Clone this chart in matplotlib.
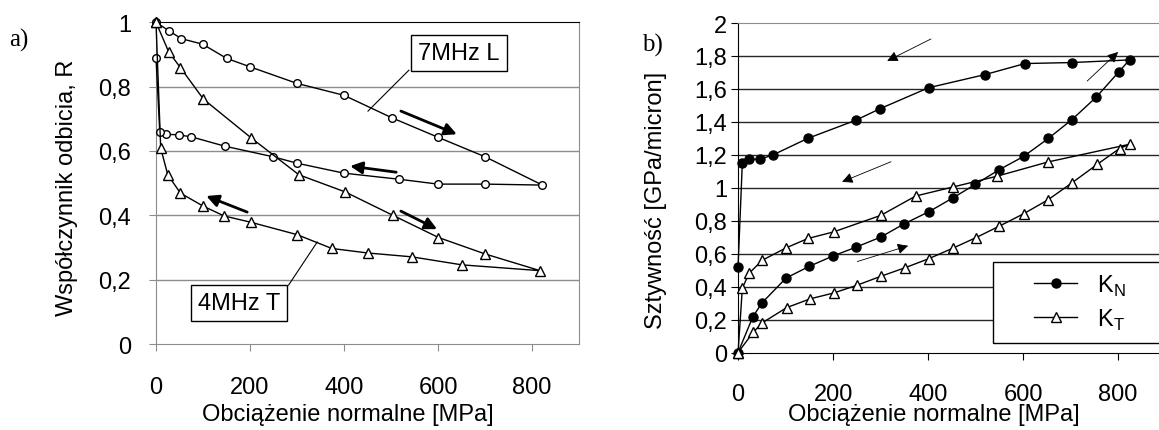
import matplotlib
matplotlib.use("Agg")
import matplotlib.pyplot as plt
from matplotlib.patches import Rectangle
from matplotlib.ticker import FixedLocator

plt.rcParams["font.family"] = ["Liberation Sans", "DejaVu Sans"]
plt.rcParams["font.size"] = 17

# --- panel a): reflection coefficient R ---
l7_x = [0, 28, 54, 99, 150, 201, 300, 400, 502, 601, 700, 822,
        700, 600, 518, 400, 300, 249, 146, 75, 48, 22, 8, 0]
l7_y = [1.0, 0.973, 0.949, 0.932, 0.888, 0.861, 0.81, 0.773, 0.703, 0.642, 0.582, 0.494,
        0.497, 0.497, 0.512, 0.531, 0.562, 0.582, 0.615, 0.644, 0.650, 0.652, 0.66, 0.89]
t4_x = [0, 27, 52, 101, 203, 304, 402, 504, 601, 700, 817,
        651, 544, 450, 374, 300, 203, 145, 101, 52, 25, 10, 0]
t4_y = [1.0, 0.908, 0.859, 0.761, 0.64, 0.526, 0.473, 0.40, 0.331, 0.28, 0.228,
        0.246, 0.271, 0.283, 0.297, 0.34, 0.378, 0.398, 0.428, 0.469, 0.526, 0.609, 1.0]

# --- panel b): stiffness ---
kn_x = [0, 31, 50, 101, 150, 199, 248, 300, 349, 402, 452, 499, 550, 601, 653, 703, 754, 802, 824,
        703, 604, 520, 401, 299, 248, 147, 74, 46, 22, 9, 0]
kn_y = [0.0, 0.216, 0.30, 0.452, 0.523, 0.585, 0.639, 0.70, 0.78, 0.855, 0.938, 1.02, 1.11, 1.19,
        1.299, 1.414, 1.55, 1.705, 1.776,
        1.76, 1.754, 1.687, 1.607, 1.48, 1.41, 1.30, 1.20, 1.173, 1.173, 1.151, 0.52]
kt_x = [0, 32, 51, 102, 152, 201, 250, 301, 352, 402, 452, 500, 550, 601, 652, 703, 756, 803, 824,
        653, 545, 453, 374, 301, 201, 147, 101, 51, 23, 9, 0]
kt_y = [0.0, 0.123, 0.18, 0.272, 0.326, 0.361, 0.408, 0.463, 0.515, 0.57, 0.633, 0.696, 0.767,
        0.842, 0.926, 1.03, 1.142, 1.238, 1.264,
        1.157, 1.07, 1.005, 0.95, 0.833, 0.732, 0.692, 0.635, 0.56, 0.48, 0.39, 0.0]

x_ticks = [0, 200, 400, 600, 800]
a_yticks = [0, 0.2, 0.4, 0.6, 0.8, 1.0]
a_ylabels = ["0", "0,2", "0,4", "0,6", "0,8", "1"]
b_yticks = [0, 0.2, 0.4, 0.6, 0.8, 1.0, 1.2, 1.4, 1.6, 1.8, 2.0]
b_ylabels = ["0", "0,2", "0,4", "0,6", "0,8", "1", "1,2", "1,4", "1,6", "1,8", "2"]

fig = plt.figure(figsize=(11.59, 4.31), dpi=100)
ax1 = fig.add_axes([0.1346, 0.1995, 0.365, 0.7465])
ax2 = fig.add_axes([0.6368, 0.1798, 0.3689, 0.7645])

# ---------- a) ----------
ax1.plot(l7_x, l7_y, color="black", lw=1.0, marker="o", ms=5.5, mfc="white", mec="black", mew=1.0,
         zorder=3, clip_on=False)
ax1.plot(t4_x, t4_y, color="black", lw=1.0, marker="^", ms=6.5, mfc="white", mec="black", mew=1.0,
         zorder=3, clip_on=False)
ax1.set_xlim(0, 900)
ax1.set_ylim(0, 1)
ax1.xaxis.set_major_locator(FixedLocator(x_ticks))
ax1.set_yticks(a_yticks)
ax1.set_yticklabels(a_ylabels)
for y in a_yticks[1:-1]:
    ax1.axhline(y, color="#8c8c8c", lw=1.0, zorder=1)
for s in ["left", "bottom", "right"]:
    ax1.spines[s].set_color("#8c8c8c")
ax1.spines["top"].set_color("black")
ax1.tick_params(axis="x", direction="out", length=5, pad=18, color="#8c8c8c")
ax1.tick_params(axis="y", direction="out", length=5, pad=13, color="#8c8c8c")
ax1.set_xlabel("Obciążenie normalne [MPa]")
ax1.xaxis.set_label_coords(0.454, -0.183)
ax1.set_ylabel("Współczynnik odbicia, R")
ax1.yaxis.set_label_coords(-0.184, 0.49)

box = dict(boxstyle="square,pad=0.3", fc="white", ec="black", lw=1.0)
ax1.text(645, 0.904, "7MHz L", ha="center", va="center", bbox=box, zorder=5)
ax1.text(177, 0.127, "4MHz T", ha="center", va="center", bbox=box, zorder=5)
ax1.plot([538, 451], [0.851, 0.724], color="black", lw=0.8, zorder=4)
ax1.plot([282, 343], [0.183, 0.317], color="black", lw=0.8, zorder=4)

bold = dict(arrowstyle="-|>", lw=2.0, color="black", mutation_scale=18, shrinkA=0, shrinkB=0)
for (tx, ty), (hx, hy) in [((521, 0.724), (640, 0.652)), ((511, 0.534), (413, 0.553)),
                           ((521, 0.413), (598, 0.357)), ((194, 0.41), (107, 0.46))]:
    ax1.annotate("", xy=(hx, hy), xytext=(tx, ty), arrowprops=bold, zorder=4)

# ---------- b) ----------
ax2.plot(kn_x, kn_y, color="black", lw=1.0, marker="o", ms=6.5, mfc="black", mec="black",
         label="K$_\\mathregular{N}$", zorder=3, clip_on=False)
ax2.plot(kt_x, kt_y, color="black", lw=1.0, marker="^", ms=6.5, mfc="white", mec="black", mew=1.0,
         label="K$_\\mathregular{T}$", zorder=3, clip_on=False)
ax2.set_xlim(0, 900)
ax2.set_ylim(0, 2)
ax2.xaxis.set_major_locator(FixedLocator(x_ticks))
ax2.set_yticks(b_yticks)
ax2.set_yticklabels(b_ylabels)
for y in b_yticks[1:-1]:
    ax2.axhline(y, color="#262626", lw=1.0, zorder=1)
ax2.spines["top"].set_color("#8c8c8c")
ax2.spines["right"].set_visible(False)
ax2.tick_params(axis="x", direction="out", length=5, pad=17)
ax2.tick_params(axis="y", direction="out", length=5, pad=3)
ax2.set_xlabel("Obciążenie normalne [MPa]")
ax2.xaxis.set_label_coords(0.458, -0.153)
ax2.set_ylabel("Sztywność [GPa/micron]")
ax2.yaxis.set_label_coords(-0.166, 0.464)

thin = dict(arrowstyle="-|>", lw=0.6, color="black", mutation_scale=16, shrinkA=0, shrinkB=0)
for (tx, ty), (hx, hy) in [((406, 1.903), (314, 1.77)), ((322, 1.158), (219, 1.036)),
                           ((251, 0.552), (358, 0.648)), ((735, 1.648), (800, 1.824))]:
    ax2.annotate("", xy=(hx, hy), xytext=(tx, ty), arrowprops=thin, zorder=4)

# legend frame drawn as a white box, legend entries placed inside
ax2.add_patch(Rectangle((0.596, 0.03), 0.41, 0.246, transform=ax2.transAxes, fc="white",
                        ec="black", lw=1.0, zorder=4.5, clip_on=False))
leg = ax2.legend(loc="center", bbox_to_anchor=(0.80, 0.153), frameon=False,
                 handlelength=1.8, handletextpad=0.85, labelspacing=0.36, borderpad=0,
                 borderaxespad=0)
leg.set_zorder(6)

fig.text(0.008, 0.893, "a)", family=["Liberation Serif"], fontsize=18)
fig.text(0.554, 0.88, "b)", family=["Liberation Serif"], fontsize=18)

fig.savefig("out.png", dpi=100)
